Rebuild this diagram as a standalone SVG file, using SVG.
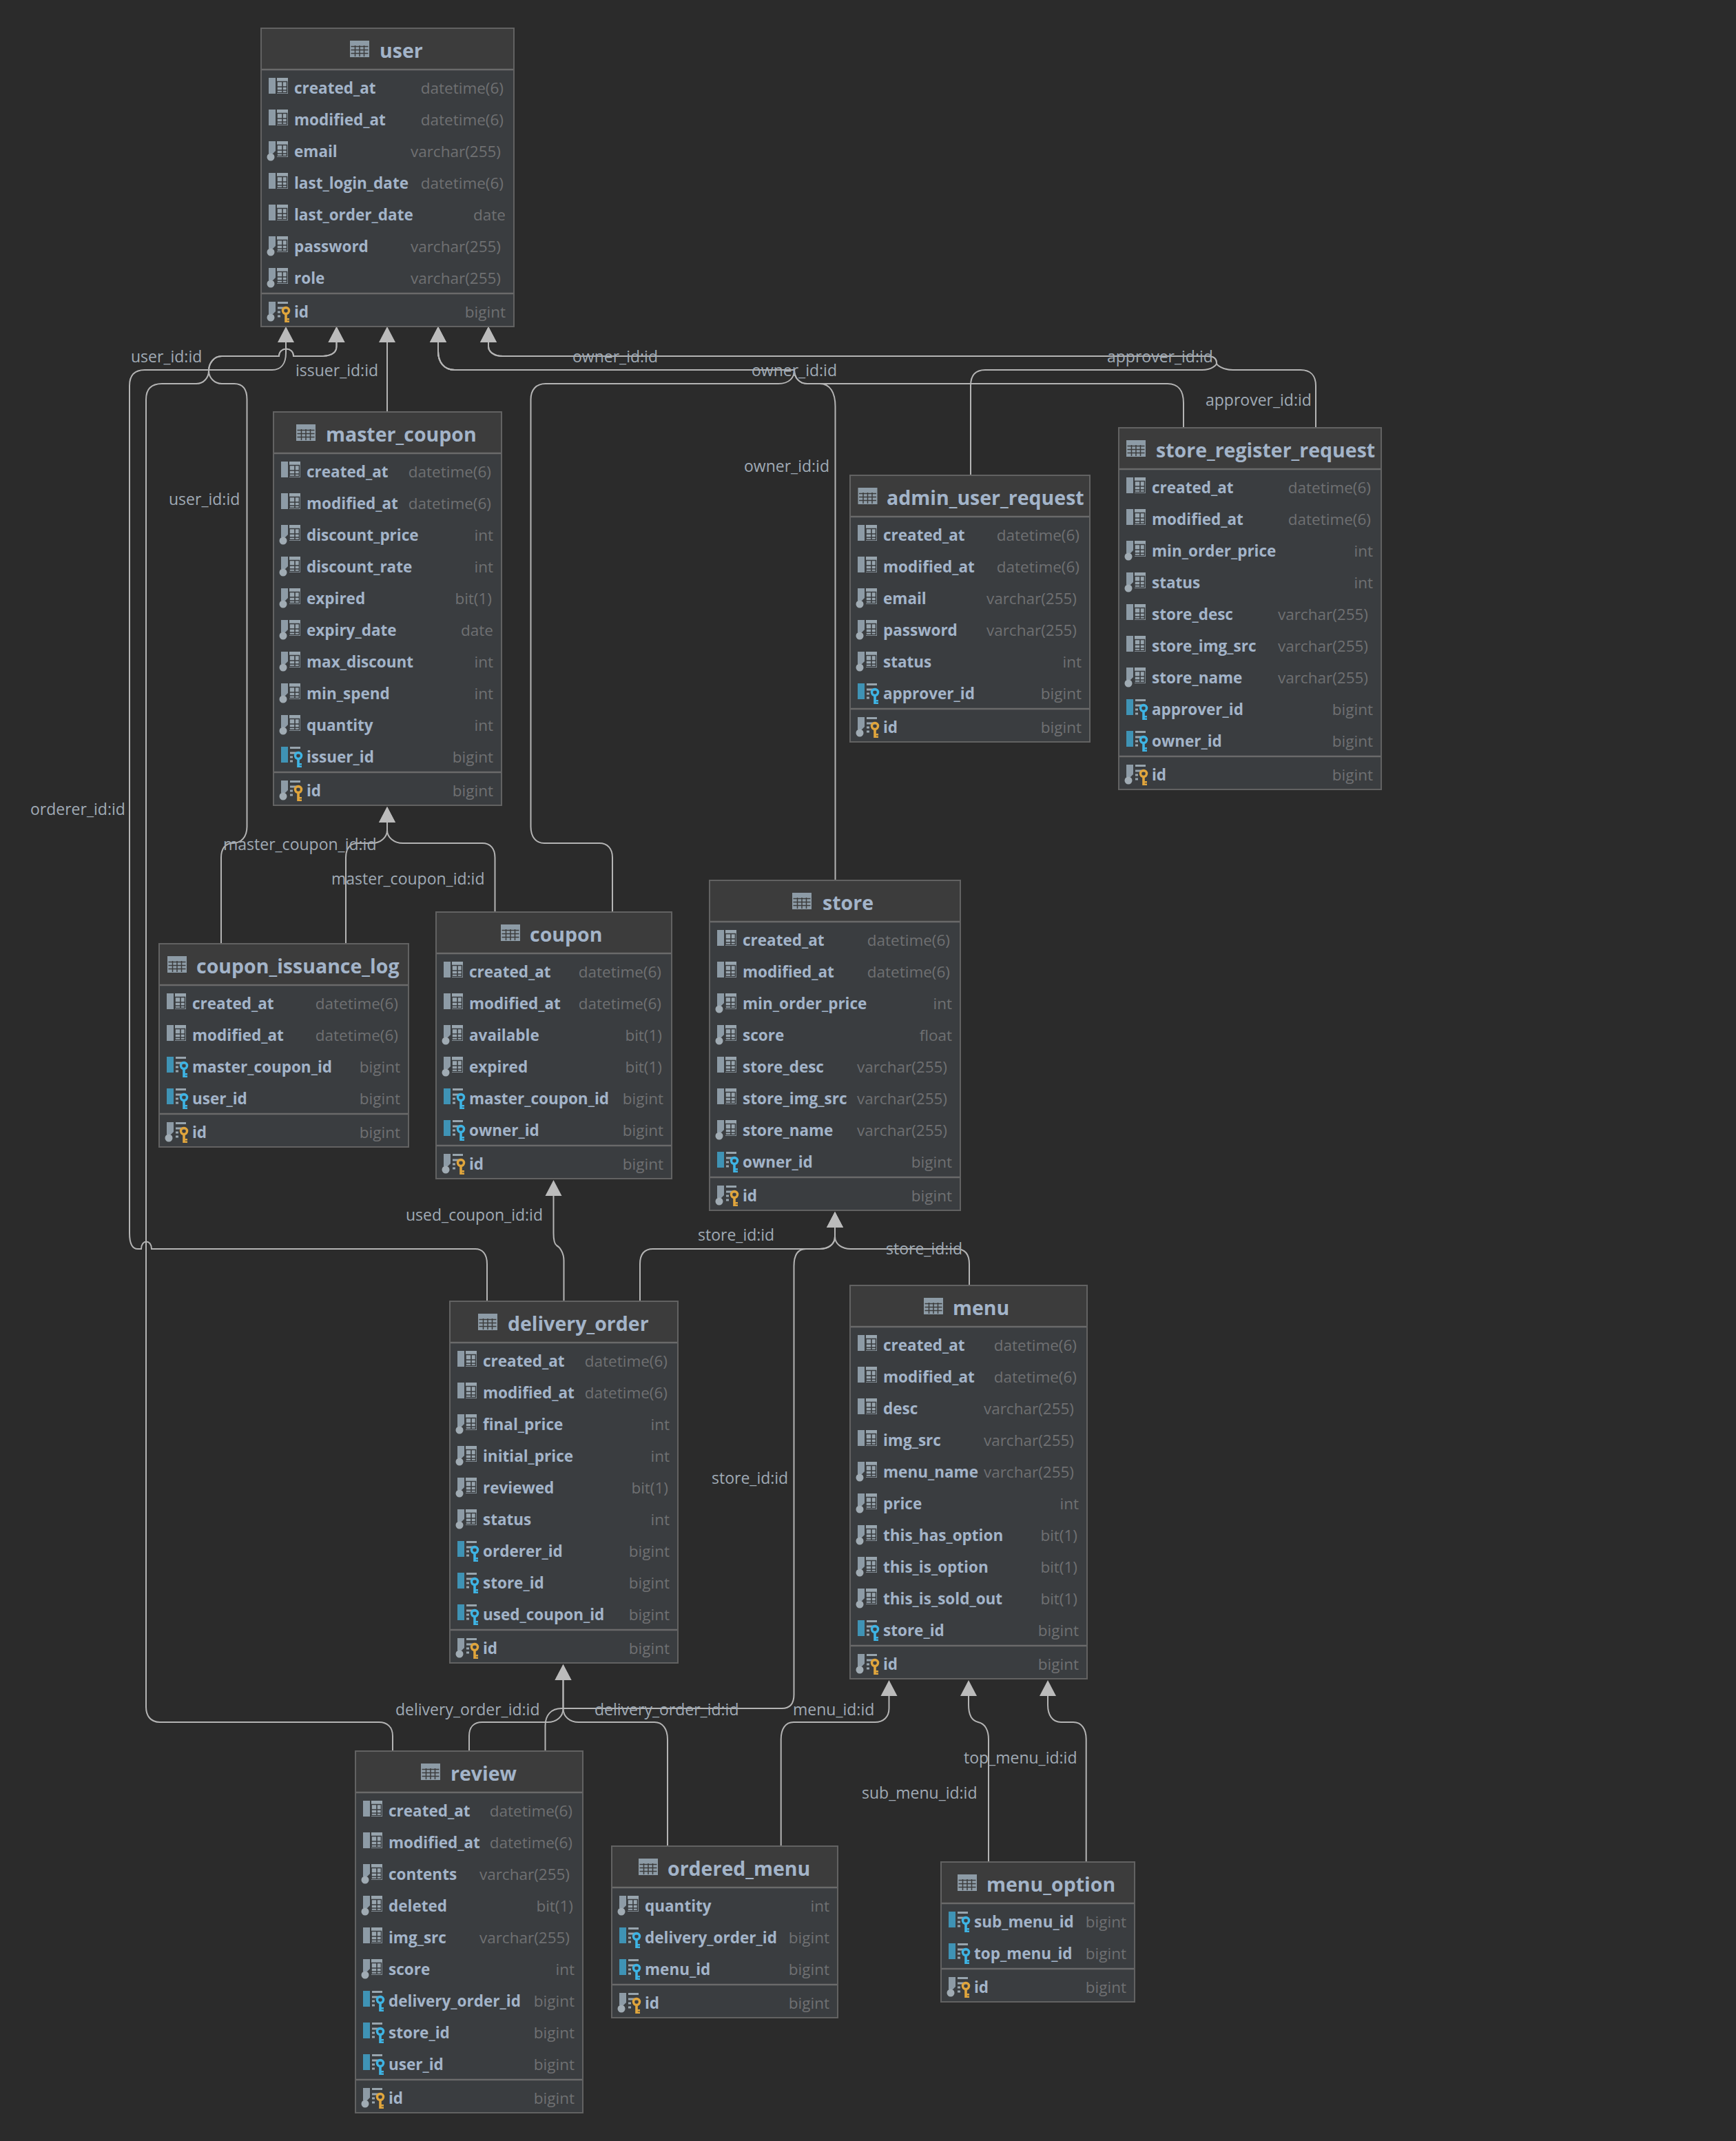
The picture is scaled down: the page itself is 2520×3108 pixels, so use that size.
<svg xmlns="http://www.w3.org/2000/svg" width="2520" height="3108" viewBox="0 0 2520 3108">
<style>
text{font-family:"Open Sans","Noto Sans","Liberation Sans",sans-serif}
.f{fill:#3a3d40;stroke:#626262;stroke-width:2}
.h{fill:#3c3c3c}
.s{stroke:#6a6a6a;stroke-width:2.5;fill:none}
.ti{font-size:28.5px;font-weight:700;fill:#a3b4c9;transform:translate(0,1px)}
.n{font-size:22.5px;font-weight:700;fill:#a3b4c9;transform:translate(0,1px)}
.t{font-size:22.5px;fill:#6f7072;text-anchor:end;transform:translate(0,1px)}
.l{font-size:23px;fill:#a0aab5}
.c{fill:none;stroke:#b4b4b4;stroke-width:2;marker-end:url(#arrow)}
</style>
<defs>
<marker id="arrow" markerUnits="userSpaceOnUse" markerWidth="26" markerHeight="26" refX="0" refY="12.5" orient="auto">
<path d="M0 .5L23 12.5L0 24.5Z" fill="#bbbbbb"/>
</marker>
<g id="tbl"><rect x="0" y="0" width="28" height="24" fill="#8d9ba6"/><path d="M1.5 8.5H26.500M1.500 13.500H26.500M1.500 18.500H26.500M7.500 7V23M14 7V23M20.500 7V23" stroke="#3c3c3c" stroke-width="1.500" fill="none"/></g>
<g id="gr"><rect x="23" y="-17" width="16" height="23" fill="#98a5ae"/><path d="M23 -11.500H37.500V4.500H23V-11.500M23 -4H37.500M23 1H37.500M31 -11V4.500" stroke="#3a3d40" stroke-width="1.600" fill="none"/></g>
<g id="dg"><path d="M24 -15.500H39M24 -8H38M24 -2H28M31 -2H33M24 4H28" stroke="#98a5ae" stroke-width="3" fill="none"/></g>
<g id="kb"><circle cx="36" cy="-4" r="4.500" fill="none" stroke="#3eb4e4" stroke-width="3.500"/><path d="M34.200 0H37.800V13H34.200ZM37 7H41V9.500H37ZM37 10.500H41V13H37Z" fill="#3eb4e4"/></g>
<g id="ky"><circle cx="36" cy="-4" r="4.500" fill="none" stroke="#e0a53c" stroke-width="3.500"/><path d="M34.200 0H37.800V13H34.200ZM37 7H41V9.500H37ZM37 10.500H41V13H37Z" fill="#e0a53c"/></g>
<g id="c" transform="translate(0 1)"><rect x="11" y="-17" width="10" height="23" fill="#8d9ba6"/><use href="#gr"/></g>
<g id="o" transform="translate(0 1)"><path d="M11 -17H21V-3L17 1H11Z" fill="#8d9ba6"/><circle cx="14" cy="6" r="5.500" fill="#a0abb3"/><use href="#gr"/></g>
<g id="f" transform="translate(0 1)"><rect x="11" y="-17" width="10" height="23" fill="#3f93b5"/><use href="#dg"/><use href="#kb"/></g>
<g id="p" transform="translate(0 1)"><path d="M11 -17H21V-3L17 1H11Z" fill="#8d9ba6"/><circle cx="14" cy="6" r="5.500" fill="#a0abb3"/><use href="#dg"/><use href="#ky"/></g>
</defs>
<rect width="2520" height="3108" fill="#2b2b2b"/>
<g id="connectors">
<path class="c" d="M707 1889V1835C707 1820 700 1813 690 1813H220C220 1799 205 1799 205 1813H200C192 1813 188 1805 188 1790V560C188 545 195 537 210 537H395C408 537 415 528 415 512V497"/>
<path class="c" d="M570 2542V2520C570 2507 562 2500 550 2500H232C218 2500 212 2490 212 2478V580C212 565 220 557 235 557H285C296 557 303 548 303 538C303 528 310 517 322 517H405C405 503 426 503 426 517H465C482 517 488.500 512 488.500 503V497"/>
<path class="c" d="M321 1370V1245C321 1232 327 1224 338 1224C350 1224 358.500 1215 358.500 1200V580C358.500 565 352 557 340 557H322C311 557 303 548 303 538C303 528 310 517 322 517H405C405 503 426 503 426 517H465C482 517 488.500 512 488.500 503V497"/>
<path class="c" d="M562 598V497"/>
<path class="c" d="M889 1324V1245C889 1232 882 1224 870 1224H790C778 1224 770.500 1215 770.500 1200V580C770.500 566 778 557 792 557H1130C1146 557 1153 548 1153 537H660C644 537 636 525 636 510V497"/>
<path class="c" d="M1212.500 1278V590C1212.500 570 1205 557 1190 557H1172C1160 557 1153 548 1153 537H660C644 537 636 525 636 510V497"/>
<path class="c" d="M1718 621V585C1718 567 1710 557 1695 557H1172C1160 557 1153 548 1153 537H660C644 537 636 525 636 510V497"/>
<path class="c" d="M1409 690V560C1409 545 1416 537 1430 537H1745C1759 537 1766 530 1766 527C1766 520 1762 517 1752 517H730C716 517 709 510 709 503V497"/>
<path class="c" d="M1910 621V560C1910 545 1902 537 1888 537H1790C1775 537 1766 530 1766 527C1766 520 1762 517 1752 517H730C716 517 709 510 709 503V497"/>
<path class="c" d="M502 1370V1245C502 1232 508 1224 520 1224H540C553 1224 562 1215 562 1205V1194"/>
<path class="c" d="M718.500 1324V1245C718.500 1232 712 1224 700 1224H585C571 1224 562 1215 562 1205V1194"/>
<path class="c" d="M818.500 1889V1830C818.500 1818 812 1810 808 1808C805 1806 803.500 1800 803.500 1790V1736"/>
<path class="c" d="M929 1889V1835C929 1820 936 1813 948 1813H1190C1203 1813 1212 1806 1212 1795V1782"/>
<path class="c" d="M1407 1866V1835C1407 1820 1400 1813 1388 1813H1235C1222 1813 1212 1806 1212 1795V1782"/>
<path class="c" d="M791.500 2542V2505C791.500 2490 800 2480 815 2480H1135C1148 2480 1152.500 2472 1152.500 2460V1838C1152.500 1822 1158 1813 1170 1813H1190C1200 1813 1212 1808 1212 1795V1782"/>
<path class="c" d="M681 2542V2520C681 2507 688 2500 700 2500H795C808 2500 817.500 2492 817.500 2480V2439"/>
<path class="c" d="M969 2680V2525C969 2510 962 2500 950 2500H840C827 2500 817.500 2492 817.500 2480V2439"/>
<path class="c" d="M1133.700 2680V2525C1133.700 2510 1140 2500 1152 2500H1270C1283 2500 1290.500 2492 1290.500 2480V2462"/>
<path class="c" d="M1435 2703V2525C1435 2512 1430 2502 1420 2500C1411 2498 1406 2490 1406 2475V2462"/>
<path class="c" d="M1576.700 2703V2525C1576.700 2510 1570 2500 1558 2500H1540C1528 2500 1521 2490 1521 2475V2462"/>
<text class="l" x="190" y="526">user_id:id</text>
<text class="l" x="245" y="733">user_id:id</text>
<text class="l" x="429" y="546">issuer_id:id</text>
<text class="l" x="831" y="526">owner_id:id</text>
<text class="l" x="1091" y="546">owner_id:id</text>
<text class="l" x="1080" y="685">owner_id:id</text>
<text class="l" x="1607" y="526">approver_id:id</text>
<text class="l" x="1750" y="589">approver_id:id</text>
<text class="l" x="44" y="1183">orderer_id:id</text>
<text class="l" x="324" y="1234">master_coupon_id:id</text>
<text class="l" x="481" y="1284">master_coupon_id:id</text>
<text class="l" x="589" y="1772">used_coupon_id:id</text>
<text class="l" x="1013" y="1801">store_id:id</text>
<text class="l" x="1286" y="1821">store_id:id</text>
<text class="l" x="1033" y="2154">store_id:id</text>
<text class="l" x="574" y="2490">delivery_order_id:id</text>
<text class="l" x="863" y="2490">delivery_order_id:id</text>
<text class="l" x="1151" y="2490">menu_id:id</text>
<text class="l" x="1399" y="2560">top_menu_id:id</text>
<text class="l" x="1251" y="2611">sub_menu_id:id</text>
</g>
<g id="user" transform="translate(379 41)">
<rect class="f" width="367" height="433"/><rect class="h" x="1" y="1" width="365" height="59"/><path class="s" d="M1 60H366M1 385H366"/>
<use href="#tbl" x="129" y="18"/><text class="ti" x="172" y="42">user</text>
<use href="#c" y="88"/><text class="n" x="48" y="94">created_at</text><text class="t" x="352" y="94">datetime(6)</text>
<use href="#c" y="134"/><text class="n" x="48" y="140">modified_at</text><text class="t" x="352" y="140">datetime(6)</text>
<use href="#o" y="180"/><text class="n" x="48" y="186">email</text><text class="t" x="348" y="186">varchar(255)</text>
<use href="#c" y="226"/><text class="n" x="48" y="232">last_login_date</text><text class="t" x="352" y="232">datetime(6)</text>
<use href="#c" y="272"/><text class="n" x="48" y="278">last_order_date</text><text class="t" x="355" y="278">date</text>
<use href="#o" y="318"/><text class="n" x="48" y="324">password</text><text class="t" x="348" y="324">varchar(255)</text>
<use href="#o" y="364"/><text class="n" x="48" y="370">role</text><text class="t" x="348" y="370">varchar(255)</text>
<use href="#p" y="413"/><text class="n" x="48" y="419">id</text><text class="t" x="355" y="419">bigint</text>
</g>
<g id="master_coupon" transform="translate(397 598)">
<rect class="f" width="331" height="571"/><rect class="h" x="1" y="1" width="329" height="59"/><path class="s" d="M1 60H330M1 523H330"/>
<use href="#tbl" x="33" y="18"/><text class="ti" x="76" y="42">master_coupon</text>
<use href="#c" y="88"/><text class="n" x="48" y="94">created_at</text><text class="t" x="316" y="94">datetime(6)</text>
<use href="#c" y="134"/><text class="n" x="48" y="140">modified_at</text><text class="t" x="316" y="140">datetime(6)</text>
<use href="#o" y="180"/><text class="n" x="48" y="186">discount_price</text><text class="t" x="319" y="186">int</text>
<use href="#o" y="226"/><text class="n" x="48" y="232">discount_rate</text><text class="t" x="319" y="232">int</text>
<use href="#o" y="272"/><text class="n" x="48" y="278">expired</text><text class="t" x="317" y="278">bit(1)</text>
<use href="#o" y="318"/><text class="n" x="48" y="324">expiry_date</text><text class="t" x="319" y="324">date</text>
<use href="#o" y="364"/><text class="n" x="48" y="370">max_discount</text><text class="t" x="319" y="370">int</text>
<use href="#o" y="410"/><text class="n" x="48" y="416">min_spend</text><text class="t" x="319" y="416">int</text>
<use href="#o" y="456"/><text class="n" x="48" y="462">quantity</text><text class="t" x="319" y="462">int</text>
<use href="#f" y="502"/><text class="n" x="48" y="508">issuer_id</text><text class="t" x="319" y="508">bigint</text>
<use href="#p" y="551"/><text class="n" x="48" y="557">id</text><text class="t" x="319" y="557">bigint</text>
</g>
<g id="coupon_issuance_log" transform="translate(231 1370)">
<rect class="f" width="362" height="295"/><rect class="h" x="1" y="1" width="360" height="59"/><path class="s" d="M1 60H361M1 247H361"/>
<use href="#tbl" x="12" y="18"/><text class="ti" x="54" y="42">coupon_issuance_log</text>
<use href="#c" y="88"/><text class="n" x="48" y="94">created_at</text><text class="t" x="347" y="94">datetime(6)</text>
<use href="#c" y="134"/><text class="n" x="48" y="140">modified_at</text><text class="t" x="347" y="140">datetime(6)</text>
<use href="#f" y="180"/><text class="n" x="48" y="186">master_coupon_id</text><text class="t" x="350" y="186">bigint</text>
<use href="#f" y="226"/><text class="n" x="48" y="232">user_id</text><text class="t" x="350" y="232">bigint</text>
<use href="#p" y="275"/><text class="n" x="48" y="281">id</text><text class="t" x="350" y="281">bigint</text>
</g>
<g id="coupon" transform="translate(633 1324)">
<rect class="f" width="342" height="387"/><rect class="h" x="1" y="1" width="340" height="59"/><path class="s" d="M1 60H341M1 339H341"/>
<use href="#tbl" x="94" y="18"/><text class="ti" x="136" y="42">coupon</text>
<use href="#c" y="88"/><text class="n" x="48" y="94">created_at</text><text class="t" x="327" y="94">datetime(6)</text>
<use href="#c" y="134"/><text class="n" x="48" y="140">modified_at</text><text class="t" x="327" y="140">datetime(6)</text>
<use href="#o" y="180"/><text class="n" x="48" y="186">available</text><text class="t" x="328" y="186">bit(1)</text>
<use href="#o" y="226"/><text class="n" x="48" y="232">expired</text><text class="t" x="328" y="232">bit(1)</text>
<use href="#f" y="272"/><text class="n" x="48" y="278">master_coupon_id</text><text class="t" x="330" y="278">bigint</text>
<use href="#f" y="318"/><text class="n" x="48" y="324">owner_id</text><text class="t" x="330" y="324">bigint</text>
<use href="#p" y="367"/><text class="n" x="48" y="373">id</text><text class="t" x="330" y="373">bigint</text>
</g>
<g id="store" transform="translate(1030 1278)">
<rect class="f" width="364" height="479"/><rect class="h" x="1" y="1" width="362" height="59"/><path class="s" d="M1 60H363M1 431H363"/>
<use href="#tbl" x="120" y="18"/><text class="ti" x="164" y="42">store</text>
<use href="#c" y="88"/><text class="n" x="48" y="94">created_at</text><text class="t" x="349" y="94">datetime(6)</text>
<use href="#c" y="134"/><text class="n" x="48" y="140">modified_at</text><text class="t" x="349" y="140">datetime(6)</text>
<use href="#o" y="180"/><text class="n" x="48" y="186">min_order_price</text><text class="t" x="352" y="186">int</text>
<use href="#o" y="226"/><text class="n" x="48" y="232">score</text><text class="t" x="352" y="232">float</text>
<use href="#c" y="272"/><text class="n" x="48" y="278">store_desc</text><text class="t" x="345" y="278">varchar(255)</text>
<use href="#c" y="318"/><text class="n" x="48" y="324">store_img_src</text><text class="t" x="345" y="324">varchar(255)</text>
<use href="#o" y="364"/><text class="n" x="48" y="370">store_name</text><text class="t" x="345" y="370">varchar(255)</text>
<use href="#f" y="410"/><text class="n" x="48" y="416">owner_id</text><text class="t" x="352" y="416">bigint</text>
<use href="#p" y="459"/><text class="n" x="48" y="465">id</text><text class="t" x="352" y="465">bigint</text>
</g>
<g id="admin_user_request" transform="translate(1234 690)">
<rect class="f" width="348" height="387"/><rect class="h" x="1" y="1" width="346" height="59"/><path class="s" d="M1 60H347M1 339H347"/>
<use href="#tbl" x="11.500" y="18"/><text class="ti" x="53" y="42">admin_user_request</text>
<use href="#c" y="88"/><text class="n" x="48" y="94">created_at</text><text class="t" x="333" y="94">datetime(6)</text>
<use href="#c" y="134"/><text class="n" x="48" y="140">modified_at</text><text class="t" x="333" y="140">datetime(6)</text>
<use href="#o" y="180"/><text class="n" x="48" y="186">email</text><text class="t" x="329" y="186">varchar(255)</text>
<use href="#o" y="226"/><text class="n" x="48" y="232">password</text><text class="t" x="329" y="232">varchar(255)</text>
<use href="#o" y="272"/><text class="n" x="48" y="278">status</text><text class="t" x="336" y="278">int</text>
<use href="#f" y="318"/><text class="n" x="48" y="324">approver_id</text><text class="t" x="336" y="324">bigint</text>
<use href="#p" y="367"/><text class="n" x="48" y="373">id</text><text class="t" x="336" y="373">bigint</text>
</g>
<g id="store_register_request" transform="translate(1624 621)">
<rect class="f" width="381" height="525"/><rect class="h" x="1" y="1" width="379" height="59"/><path class="s" d="M1 60H380M1 477H380"/>
<use href="#tbl" x="11" y="18"/><text class="ti" x="54" y="42">store_register_request</text>
<use href="#c" y="88"/><text class="n" x="48" y="94">created_at</text><text class="t" x="366" y="94">datetime(6)</text>
<use href="#c" y="134"/><text class="n" x="48" y="140">modified_at</text><text class="t" x="366" y="140">datetime(6)</text>
<use href="#o" y="180"/><text class="n" x="48" y="186">min_order_price</text><text class="t" x="369" y="186">int</text>
<use href="#o" y="226"/><text class="n" x="48" y="232">status</text><text class="t" x="369" y="232">int</text>
<use href="#c" y="272"/><text class="n" x="48" y="278">store_desc</text><text class="t" x="362" y="278">varchar(255)</text>
<use href="#c" y="318"/><text class="n" x="48" y="324">store_img_src</text><text class="t" x="362" y="324">varchar(255)</text>
<use href="#o" y="364"/><text class="n" x="48" y="370">store_name</text><text class="t" x="362" y="370">varchar(255)</text>
<use href="#f" y="410"/><text class="n" x="48" y="416">approver_id</text><text class="t" x="369" y="416">bigint</text>
<use href="#f" y="456"/><text class="n" x="48" y="462">owner_id</text><text class="t" x="369" y="462">bigint</text>
<use href="#p" y="505"/><text class="n" x="48" y="511">id</text><text class="t" x="369" y="511">bigint</text>
</g>
<g id="delivery_order" transform="translate(653 1889)">
<rect class="f" width="331" height="525"/><rect class="h" x="1" y="1" width="329" height="59"/><path class="s" d="M1 60H330M1 477H330"/>
<use href="#tbl" x="41" y="18"/><text class="ti" x="84" y="42">delivery_order</text>
<use href="#c" y="88"/><text class="n" x="48" y="94">created_at</text><text class="t" x="316" y="94">datetime(6)</text>
<use href="#c" y="134"/><text class="n" x="48" y="140">modified_at</text><text class="t" x="316" y="140">datetime(6)</text>
<use href="#o" y="180"/><text class="n" x="48" y="186">final_price</text><text class="t" x="319" y="186">int</text>
<use href="#o" y="226"/><text class="n" x="48" y="232">initial_price</text><text class="t" x="319" y="232">int</text>
<use href="#o" y="272"/><text class="n" x="48" y="278">reviewed</text><text class="t" x="317" y="278">bit(1)</text>
<use href="#o" y="318"/><text class="n" x="48" y="324">status</text><text class="t" x="319" y="324">int</text>
<use href="#f" y="364"/><text class="n" x="48" y="370">orderer_id</text><text class="t" x="319" y="370">bigint</text>
<use href="#f" y="410"/><text class="n" x="48" y="416">store_id</text><text class="t" x="319" y="416">bigint</text>
<use href="#f" y="456"/><text class="n" x="48" y="462">used_coupon_id</text><text class="t" x="319" y="462">bigint</text>
<use href="#p" y="505"/><text class="n" x="48" y="511">id</text><text class="t" x="319" y="511">bigint</text>
</g>
<g id="menu" transform="translate(1234 1866)">
<rect class="f" width="344" height="571"/><rect class="h" x="1" y="1" width="342" height="59"/><path class="s" d="M1 60H343M1 523H343"/>
<use href="#tbl" x="107" y="18"/><text class="ti" x="149" y="42">menu</text>
<use href="#c" y="88"/><text class="n" x="48" y="94">created_at</text><text class="t" x="329" y="94">datetime(6)</text>
<use href="#c" y="134"/><text class="n" x="48" y="140">modified_at</text><text class="t" x="329" y="140">datetime(6)</text>
<use href="#c" y="180"/><text class="n" x="48" y="186">desc</text><text class="t" x="325" y="186">varchar(255)</text>
<use href="#c" y="226"/><text class="n" x="48" y="232">img_src</text><text class="t" x="325" y="232">varchar(255)</text>
<use href="#o" y="272"/><text class="n" x="48" y="278">menu_name</text><text class="t" x="325" y="278">varchar(255)</text>
<use href="#o" y="318"/><text class="n" x="48" y="324">price</text><text class="t" x="332" y="324">int</text>
<use href="#o" y="364"/><text class="n" x="48" y="370">this_has_option</text><text class="t" x="330" y="370">bit(1)</text>
<use href="#o" y="410"/><text class="n" x="48" y="416">this_is_option</text><text class="t" x="330" y="416">bit(1)</text>
<use href="#o" y="456"/><text class="n" x="48" y="462">this_is_sold_out</text><text class="t" x="330" y="462">bit(1)</text>
<use href="#f" y="502"/><text class="n" x="48" y="508">store_id</text><text class="t" x="332" y="508">bigint</text>
<use href="#p" y="551"/><text class="n" x="48" y="557">id</text><text class="t" x="332" y="557">bigint</text>
</g>
<g id="review" transform="translate(516 2542)">
<rect class="f" width="330" height="525"/><rect class="h" x="1" y="1" width="328" height="59"/><path class="s" d="M1 60H329M1 477H329"/>
<use href="#tbl" x="95" y="18"/><text class="ti" x="138" y="42">review</text>
<use href="#c" y="88"/><text class="n" x="48" y="94">created_at</text><text class="t" x="315" y="94">datetime(6)</text>
<use href="#c" y="134"/><text class="n" x="48" y="140">modified_at</text><text class="t" x="315" y="140">datetime(6)</text>
<use href="#o" y="180"/><text class="n" x="48" y="186">contents</text><text class="t" x="311" y="186">varchar(255)</text>
<use href="#o" y="226"/><text class="n" x="48" y="232">deleted</text><text class="t" x="316" y="232">bit(1)</text>
<use href="#c" y="272"/><text class="n" x="48" y="278">img_src</text><text class="t" x="311" y="278">varchar(255)</text>
<use href="#o" y="318"/><text class="n" x="48" y="324">score</text><text class="t" x="318" y="324">int</text>
<use href="#f" y="364"/><text class="n" x="48" y="370">delivery_order_id</text><text class="t" x="318" y="370">bigint</text>
<use href="#f" y="410"/><text class="n" x="48" y="416">store_id</text><text class="t" x="318" y="416">bigint</text>
<use href="#f" y="456"/><text class="n" x="48" y="462">user_id</text><text class="t" x="318" y="462">bigint</text>
<use href="#p" y="505"/><text class="n" x="48" y="511">id</text><text class="t" x="318" y="511">bigint</text>
</g>
<g id="ordered_menu" transform="translate(888 2680)">
<rect class="f" width="328" height="249"/><rect class="h" x="1" y="1" width="326" height="59"/><path class="s" d="M1 60H327M1 201H327"/>
<use href="#tbl" x="39" y="18"/><text class="ti" x="81" y="42">ordered_menu</text>
<use href="#o" y="88"/><text class="n" x="48" y="94">quantity</text><text class="t" x="316" y="94">int</text>
<use href="#f" y="134"/><text class="n" x="48" y="140">delivery_order_id</text><text class="t" x="316" y="140">bigint</text>
<use href="#f" y="180"/><text class="n" x="48" y="186">menu_id</text><text class="t" x="316" y="186">bigint</text>
<use href="#p" y="229"/><text class="n" x="48" y="235">id</text><text class="t" x="316" y="235">bigint</text>
</g>
<g id="menu_option" transform="translate(1366 2703)">
<rect class="f" width="281" height="203"/><rect class="h" x="1" y="1" width="279" height="59"/><path class="s" d="M1 60H280M1 155H280"/>
<use href="#tbl" x="24" y="18"/><text class="ti" x="66" y="42">menu_option</text>
<use href="#f" y="88"/><text class="n" x="48" y="94">sub_menu_id</text><text class="t" x="269" y="94">bigint</text>
<use href="#f" y="134"/><text class="n" x="48" y="140">top_menu_id</text><text class="t" x="269" y="140">bigint</text>
<use href="#p" y="183"/><text class="n" x="48" y="189">id</text><text class="t" x="269" y="189">bigint</text>
</g>
</svg>
